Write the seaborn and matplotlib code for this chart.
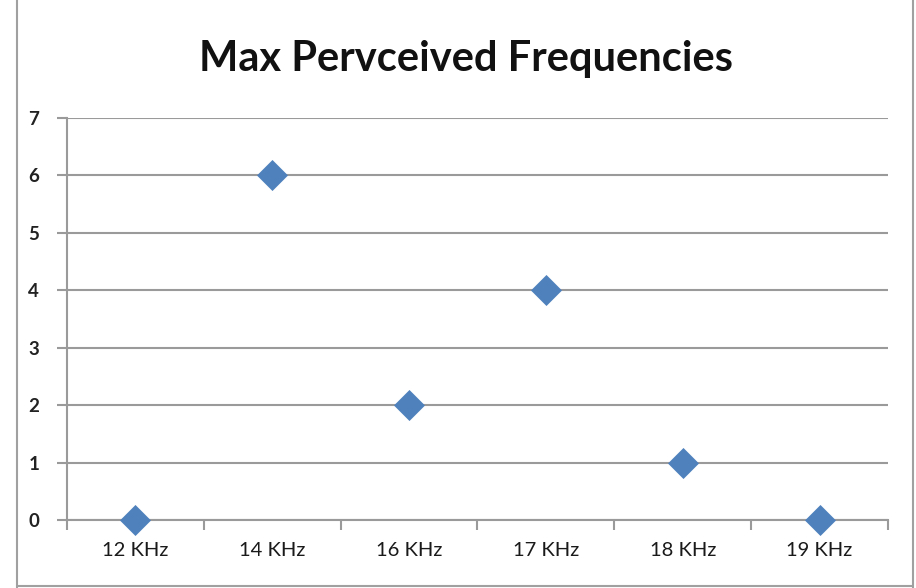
import matplotlib
matplotlib.use("Agg")
import matplotlib.pyplot as plt
import seaborn as sns
import pandas as pd
from matplotlib.lines import Line2D

categories = ["12 KHz", "14 KHz", "16 KHz", "17 KHz", "18 KHz", "19 KHz"]
values = [0, 6, 2, 4, 1, 0]
yticks = [0, 1, 2, 3, 4, 5, 6, 7]

sns.set_theme(style="white")
plt.rcParams['font.family'] = ['Lato', 'DejaVu Sans']

df = pd.DataFrame({"freq": categories, "count": values})

W, H = 916, 588
fig = plt.figure(figsize=(W / 100, H / 100), dpi=100)
ax = fig.add_axes([67 / W, 1 - 520 / H, (888 - 67) / W, (520 - 118) / H])

sns.scatterplot(data=df, x="freq", y="count", marker="D", s=250, color="#4f81bd",
                edgecolor="#4f81bd", linewidth=0, ax=ax, zorder=3, clip_on=False)

ax.set_xlim(-0.5, len(categories) - 0.5)
ax.set_ylim(0, 7)
ax.set_yticks(yticks)
ax.set_yticklabels([str(v) for v in yticks], fontsize=13.5, fontweight="bold", color="#222222")
ax.set_xticks(range(len(categories)))
ax.set_xticklabels(categories, fontsize=14.5, color="#1a1a1a")
ax.set_xticks([i - 0.5 for i in range(len(categories) + 1)], minor=True)
ax.set_xlabel("")
ax.set_ylabel("")

ax.yaxis.grid(True, color="#9a9a9a", linewidth=1.5)
ax.xaxis.grid(False)
ax.set_axisbelow(True)
for side in ["top", "right"]:
    ax.spines[side].set_visible(False)
for side in ["left", "bottom"]:
    ax.spines[side].set_color("#9a9a9a")
    ax.spines[side].set_linewidth(1.5)

ax.tick_params(axis="y", which="major", left=True, length=7, width=1.5, color="#9a9a9a", pad=13)
ax.tick_params(axis="x", which="major", bottom=False, length=0, pad=16)
ax.tick_params(axis="x", which="minor", bottom=True, length=7, width=1.5, color="#9a9a9a")

fig.text(466 / W, 1 - 59 / H, "Max Pervceived Frequencies", ha="center", va="center",
         fontsize=30, fontweight="bold", color="#111111")

# outer chart border
fig.add_artist(Line2D([17 / W, 17 / W], [0, 1], transform=fig.transFigure, color="#a0a0a0", linewidth=1.5))
fig.add_artist(Line2D([17 / W, 913 / W], [1 - 586 / H, 1 - 586 / H], transform=fig.transFigure, color="#a0a0a0", linewidth=1.5))
fig.add_artist(Line2D([913 / W, 913 / W], [0, 1], transform=fig.transFigure, color="#a0a0a0", linewidth=1.5))

fig.savefig("out.png", dpi=100)
